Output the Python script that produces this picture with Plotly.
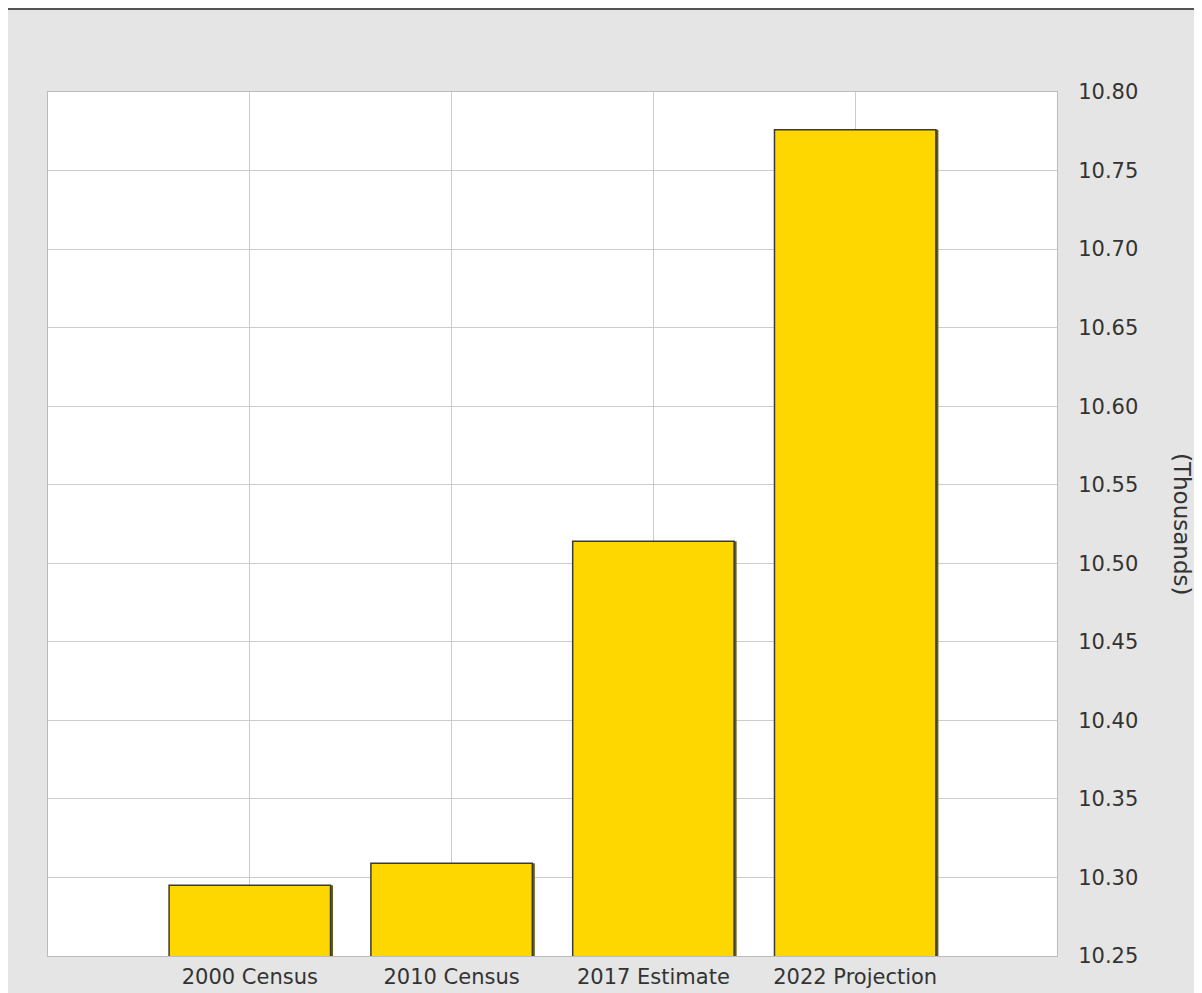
import plotly.graph_objects as go

categories = ["2000 Census", "2010 Census", "2017 Estimate", "2022 Projection"]
positions = [1, 2, 3, 4]
values = [10.295, 10.309, 10.514, 10.776]
y_ticks = [10.25, 10.30, 10.35, 10.40, 10.45, 10.50, 10.55, 10.60, 10.65, 10.70, 10.75, 10.80]

W, H = 1194, 985
L, R, T, B = 40, 145, 84, 37
pw = W - L - R
ph = H - T - B
unit = pw / 5.0

fig = go.Figure()
# shadow on the right side of each bar
fig.add_trace(go.Bar(
    x=positions, y=values, width=0.8, offset=-0.4 + 2.5 / unit,
    marker=dict(color="#6b5d10", line=dict(width=0)),
    hoverinfo="skip", showlegend=False,
))
fig.add_trace(go.Bar(
    x=positions, y=values, width=0.8, offset=-0.4,
    marker=dict(color="#FFD700", line=dict(color="#3a3a3a", width=1.5)),
    showlegend=False,
))

fig.update_layout(
    width=W, height=H,
    margin=dict(l=L, r=R, t=T, b=B),
    paper_bgcolor="#e5e5e5",
    plot_bgcolor="#ffffff",
    barmode="overlay",
    font=dict(family="DejaVu Sans", size=14, color="#333333"),
    xaxis=dict(
        range=[0, 5], tickvals=positions, ticktext=categories,
        showgrid=True, gridcolor="#cccccc", gridwidth=1,
        showline=True, linecolor="#bbbbbb", mirror=True,
        ticks="", zeroline=False, fixedrange=True, automargin=False,
        ticklabelstandoff=2,
        tickfont=dict(size=21, color="#333333"),
    ),
    yaxis=dict(
        side="right", range=[10.25, 10.80], tickvals=y_ticks,
        tickformat=".2f",
        showgrid=True, gridcolor="#cccccc", gridwidth=1,
        showline=True, linecolor="#bbbbbb", mirror=True,
        ticks="", zeroline=False, fixedrange=True, automargin=False,
        ticklabelstandoff=16,
        tickfont=dict(size=21, color="#333333"),
    ),
    shapes=[dict(
        type="line", xref="paper", yref="paper",
        x0=-L / pw, x1=(W - L) / pw,
        y0=1 + (T - 1) / ph, y1=1 + (T - 1) / ph,
        line=dict(color="#555555", width=2),
    )],
    annotations=[dict(
        text="(Thousands)", xref="paper", yref="paper",
        x=1 + (1182 - 8 - (W - R)) / pw, y=0.5, showarrow=False,
        textangle=90, font=dict(size=23, color="#333333"),
        xanchor="center", yanchor="middle",
    )],
)

fig.write_html("out.html")
